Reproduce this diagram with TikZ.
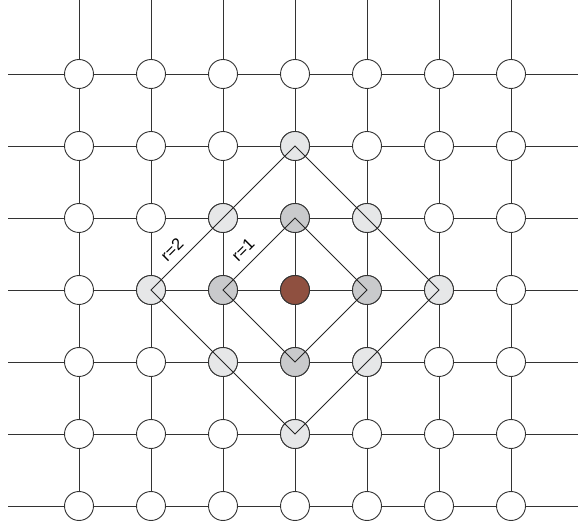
\documentclass[tikz,border=0pt]{standalone}
\usepackage{fontspec}
\setmainfont{Liberation Sans}
\begin{document}
\begin{tikzpicture}[x=1pt,y=-1pt,
  gridline/.style={draw=black!80,line width=0.9pt},
  site/.style={circle,draw=black!80,line width=0.9pt,fill=white,minimum size=29pt,inner sep=0pt},
  near/.style={site,fill=darkgrey},
  far/.style={site,fill=lightgrey},
  origin/.style={site,fill=brownsite},
  ring/.style={draw=black!85,line width=0.75pt},
  rlabel/.style={font=\fontsize{16.5}{16.5}\selectfont,rotate=45,inner sep=0pt}]
\definecolor{darkgrey}{HTML}{C9CACC}
\definecolor{lightgrey}{HTML}{E6E7E8}
\definecolor{brownsite}{HTML}{8F5040}
\useasboundingbox (0,0) rectangle (579,521);
% edge coordinates
\foreach \i in {0,...,6}{
  \pgfmathsetmacro{\yy}{74+72*\i}
  \pgfmathsetmacro{\xx}{79+72*\i}
  \coordinate (L\i) at (8,\yy);
  \coordinate (R\i) at (578,\yy);
  \coordinate (T\i) at (\xx,0);
  \coordinate (B\i) at (\xx,521);
}
% nodes
\foreach \i in {0,...,6}{
  \foreach \j in {0,...,6}{
    \pgfmathsetmacro{\yy}{74+72*\i}
    \pgfmathsetmacro{\xx}{79+72*\j}
    \node[site] (n\i\j) at (\xx,\yy) {};
  }
}
% grid lines
\foreach \i in {0,...,6}{
  \draw[gridline] (L\i) -- (n\i0);
  \draw[gridline] (n\i6) -- (R\i);
  \draw[gridline] (T\i) -- (n0\i);
  \draw[gridline] (n6\i) -- (B\i);
}
\foreach \i in {0,...,6}{
  \foreach \j/\k in {0/1,1/2,2/3,3/4,4/5,5/6}{
    \draw[gridline] (n\i\j) -- (n\i\k);
    \draw[gridline] (n\j\i) -- (n\k\i);
  }
}
% coloured sites
\node[origin] at (n33) {};
\foreach \p in {23,32,34,43}{ \node[near] at (n\p) {}; }
\foreach \p in {13,22,24,31,35,42,44,53}{ \node[far] at (n\p) {}; }
% rings
\draw[ring] (n32.center) -- (n23.center) -- (n34.center) -- (n43.center) -- cycle;
\draw[ring] (n31.center) -- (n13.center) -- (n35.center) -- (n53.center) -- cycle;
% labels
\node[rlabel] (r2) at (172,250) {r=2};
\node[rlabel] (r1) at (243,250) {r=1};
\end{tikzpicture}
\end{document}
